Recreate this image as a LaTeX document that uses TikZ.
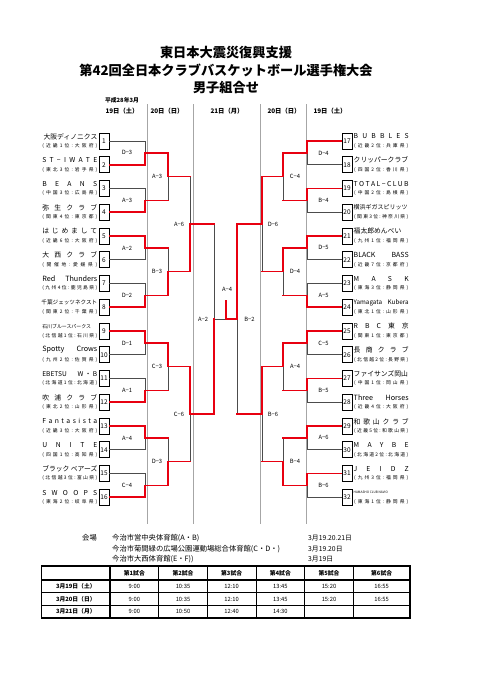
\documentclass[tikz,border=0pt]{standalone}
\usepackage{fontspec}
\setmainfont{Noto Sans CJK JP}
\usetikzlibrary{calc}
\definecolor{bred}{RGB}{232,0,16}
\def\spreadit#1{\spreadaux#1\relax}
\def\spreadaux#1#2\relax{#1\ifx\relax#2\relax\else\hfil\spreadaux#2\relax\fi}
\newcommand\spn[1]{\hbox to 55pt{\spreadit{#1}}}
\newcommand\teamL[4]{%
  \node[numbox] (b#1) at (104,#2) {#1};
  \node[nameL] (n#1) at (97.5,#2-4.6) {#3};
  \node[prefL] (p#1) at (97.5,#2+4.8) {\hbox to 55pt{\spreadit{#4}}};}
\newcommand\teamR[4]{%
  \node[numbox] (b#1) at (347,#2) {#1};
  \node[nameR] (n#1) at (353.5,#2-4.6) {#3};
  \node[prefR] (p#1) at (354,#2+4.8) {\hbox to 54pt{\spreadit{#4}}};}
\begin{document}
\begin{tikzpicture}[x=1pt,y=-1pt,
  numbox/.style={draw=black,line width=0.8pt,minimum width=10pt,minimum height=16pt,inner sep=0pt,font=\fontsize{6.5}{6.5}\selectfont},
  nameL/.style={anchor=east,inner sep=0pt,font=\fontsize{6.8}{7}\selectfont},
  nameR/.style={anchor=west,inner sep=0pt,font=\fontsize{6.8}{7}\selectfont},
  prefL/.style={anchor=east,inner sep=0pt,font=\fontsize{4.8}{5}\selectfont},
  prefR/.style={anchor=west,inner sep=0pt,font=\fontsize{4.8}{5}\selectfont},
  lbl/.style={inner sep=0pt,font=\fontsize{5.8}{6}\selectfont},
  gl/.style={draw=black!70,line width=0.6pt},
  rl/.style={draw=bred,line width=1.6pt,line cap=rect},
  sepline/.style={draw=black!35,line width=0.6pt},
  ttl/.style={inner sep=0pt,font=\bfseries\fontsize{13.2}{14}\selectfont},
  hdr/.style={inner sep=0pt,font=\bfseries\fontsize{6.3}{7}\selectfont},
  ven/.style={anchor=west,inner sep=0pt,font=\fontsize{7.3}{8}\selectfont},
  tbold/.style={inner sep=0pt,font=\bfseries\fontsize{5.8}{6}\selectfont},
  tnum/.style={inner sep=0pt,font=\fontsize{5.8}{6}\selectfont},
  thick line/.style={line width=1.1pt},
  thin line/.style={line width=0.5pt}]
\useasboundingbox (0,0) rectangle (481,680);
\fill[white] (0,0) rectangle (481,680);

% titles
\node[ttl] (t1) at (226,52.5) {東日本大震災復興支援};
\node[ttl] (t2) at (226,70) {第42回全日本クラブバスケットボール選手権大会};
\node[ttl] (t3) at (226,87.5) {男子組合せ};
\node[hdr,font=\bfseries\fontsize{5.8}{6}\selectfont] (ym) at (122,100) {平成28年3月};
\node[hdr] (d1) at (122,110.7) {19日（土）};
\node[hdr] (d2) at (167,110.7) {20日（日）};
\node[hdr] (d3) at (227,110.7) {21日（月）};
\node[hdr] (d4) at (284,110.7) {20日（日）};
\node[hdr] (d5) at (330,110.7) {19日（土）};

% separators
\foreach \xx in {147,193,260,306} \draw[sepline] (\xx,104) -- (\xx,524);

% teams left
\teamL{1}{141}{大阪ディノニクス}{(近畿1位:大阪府)}
\teamL{2}{164.75}{\spn{ST−IWATE}}{(東北3位:岩手県)}
\teamL{3}{188.5}{\spn{BEANS}}{(中国3位:広島県)}
\teamL{4}{212.25}{\spn{弥生クラブ}}{(関東4位:東京都)}
\teamL{5}{236}{\spn{はじめまして}}{(近畿6位:大阪府)}
\teamL{6}{259.75}{\spn{大西クラブ}}{(開催地:愛媛県)}
\teamL{7}{283.5}{\hbox to 55pt{\fontsize{7.2}{7.5}\selectfont Red\hfil Thunders}}{(九州4位:鹿児島県)}
\teamL{8}{307.25}{\fontsize{5.6}{6}\selectfont 千葉ジェッツネクスト}{(関東2位:千葉県)}
\teamL{9}{331}{\hbox to 55pt{\fontsize{4.9}{5}\selectfont 石川ブルースパークス\hfil}}{(北信越1位:石川県)}
\teamL{10}{354.75}{\hbox to 55pt{\fontsize{7.2}{7.5}\selectfont Spotty\hfil Crows}}{(九州2位:佐賀県)}
\teamL{11}{378.5}{\hbox to 55pt{\fontsize{6.6}{7}\selectfont EBETSU\hfil W\hskip 1.5pt・\hskip 1.5pt B}}{(北海道1位:北海道)}
\teamL{12}{402.25}{\spn{吹浦クラブ}}{(東北2位:山形県)}
\teamL{13}{426}{\spn{Fantasista}}{(近畿3位:大阪府)}
\teamL{14}{449.75}{\spn{UNITE}}{(四国1位:高知県)}
\teamL{15}{473.5}{\hbox to 55pt{ブラック\hfil ベアーズ}}{(北信越3位:富山県)}
\teamL{16}{497.25}{\spn{SWOOPS}}{(東海2位:岐阜県)}

% teams right
\teamR{17}{141}{\spn{BUBBLES}}{(近畿2位:兵庫県)}
\teamR{18}{164.75}{クリッパークラブ}{(四国2位:香川県)}
\teamR{19}{188.5}{\spn{TOTAL−CLUB}}{(中国2位:島根県)}
\teamR{20}{212.25}{\fontsize{6}{6}\selectfont 横浜ギガスピリッツ}{(関東3位:神奈川県)}
\teamR{21}{236}{福太郎めんべい}{(九州1位:福岡県)}
\teamR{22}{259.75}{\hbox to 55pt{\fontsize{7}{7.5}\selectfont BLACK\hfil BASS}}{(近畿7位:京都府)}
\teamR{23}{283.5}{\spn{MASK}}{(東海3位:静岡県)}
\teamR{24}{307.25}{\hbox to 55pt{\fontsize{6.3}{7}\selectfont Yamagata\hfil Kubera}}{(東北1位:山形県)}
\teamR{25}{331}{\spn{RBC東京}}{(関東1位:東京都)}
\teamR{26}{354.75}{\spn{長商クラブ}}{(北信越2位:長野県)}
\teamR{27}{378.5}{ファイサンズ岡山}{(中国1位:岡山県)}
\teamR{28}{402.25}{\hbox to 55pt{\fontsize{7.2}{7.5}\selectfont Three\hfil Horses}}{(近畿4位:大阪府)}
\teamR{29}{426}{\spn{和歌山クラブ}}{(近畿5位:和歌山県)}
\teamR{30}{449.75}{\spn{MAYBE}}{(北海道2位:北海道)}
\teamR{31}{473.5}{\spn{JEIDZ}}{(九州3位:福岡県)}
\teamR{32}{497.25}{\fontsize{3.2}{3.5}\selectfont HAMASHO CLUB NAVIO}{(東海1位:静岡県)}

% junction coordinates
\foreach \nm/\yy in {a/152.875,b/200.375,c/247.875,d/295.375,e/342.875,f/390.375,g/437.875,h/485.375}{
  \coordinate (L1\nm) at (145,\yy);
  \coordinate (R1\nm) at (307,\yy);}
\foreach \nm/\yy in {a/176.625,b/271.625,c/366.625,d/461.625}{
  \coordinate (L2\nm) at (168,\yy);
  \coordinate (R2\nm) at (283,\yy);}
\foreach \nm/\yy in {a/224.125,b/414.125}{
  \coordinate (L3\nm) at (190,\yy);
  \coordinate (R3\nm) at (262,\yy);}
\coordinate (SL) at (214,319.125);
\coordinate (SR) at (237,319.125);
\coordinate (F) at (226,319.125);
\coordinate (CH) at (226,301);

% ---- gray (losing) lines
\foreach \t/\m in {1/a,3/b,6/c,7/d,10/e,11/f,14/g,15/h} \draw[gl] (b\t.east) -| (L1\m);
\foreach \t/\m in {18/a,20/b,22/c,23/d,26/e,28/f,30/g,32/h} \draw[gl] (b\t.west) -| (R1\m);
\foreach \c/\p in {L1b/L2a,L1c/L2b,L1f/L2c,L1g/L2d,L2a/L3a,L2d/L3b,L3a/SL,
                   R1b/R2a,R1d/R2b,R1f/R2c,R1g/R2d,R2b/R3a,R2d/R3b,R3b/SR}
  \draw[gl] (\c -| \p) -- (\p);
\draw[gl] (SL) -- (F);

% ---- red (winning) lines
\foreach \t/\m in {2/a,4/b,5/c,8/d,9/e,12/f,13/g,16/h} \draw[rl] (b\t.east) -| (L1\m);
\foreach \t/\m in {17/a,19/b,21/c,24/d,25/e,27/f,29/g,31/h} \draw[rl] (b\t.west) -| (R1\m);
\foreach \c/\p in {L1a/L2a,L1d/L2b,L1e/L2c,L1h/L2d,L2b/L3a,L2c/L3b,L3b/SL,
                   R1a/R2a,R1c/R2b,R1e/R2c,R1h/R2d,R2a/R3a,R2c/R3b,R3a/SR}
  \draw[rl] (\c) -| (\p);
\foreach \c/\p in {L1b/L2a,L1c/L2b,L1f/L2c,L1g/L2d,L2a/L3a,L2d/L3b,L3a/SL,
                   R1b/R2a,R1d/R2b,R1f/R2c,R1g/R2d,R2b/R3a,R2d/R3b,R3b/SR}
  \draw[rl] (\c) -- (\c -| \p);
\draw[rl] (SR) -- (F) -- (CH);

% ---- match labels
\foreach \t/\yy [count=\k] in {D−3/152.875,A−3/200.375,A−2/247.875,D−2/295.375,D−1/342.875,A−1/390.375,A−4/437.875,C−4/485.375}
  \node[lbl] (la\k) at (127,\yy) {\t};
\foreach \t/\yy [count=\k] in {A−3/176.625,B−3/271.625,C−3/366.625,D−3/461.625}
  \node[lbl] (lb\k) at (157,\yy) {\t};
\node[lbl] (lc1) at (179,224.125) {A−6};
\node[lbl] (lc2) at (179,414.125) {C−6};
\node[lbl] (ld1) at (203,319.125) {A−2};
\foreach \t/\yy [count=\k] in {D−4/152.875,B−4/200.375,D−5/247.875,A−5/295.375,C−5/342.875,B−5/390.375,A−6/437.875,B−6/485.375}
  \node[lbl] (ra\k) at (323.5,\yy) {\t};
\foreach \t/\yy [count=\k] in {C−4/176.625,D−4/271.625,A−4/366.625,B−4/461.625}
  \node[lbl] (rb\k) at (295,\yy) {\t};
\node[lbl] (rc1) at (273,224.125) {D−6};
\node[lbl] (rc2) at (273,414.125) {B−6};
\node[lbl] (rd1) at (249.5,319.125) {B−2};
\node[lbl] (fin) at (227,289) {A−4};

% ---- venues
\node[ven,anchor=center] (vh) at (89.5,538) {会場};
\node[ven] (v1) at (112,538) {今治市営中央体育館(A・B)};
\node[ven] (v2) at (112,549) {今治市菊間緑の広場公園運動場総合体育館(C・D・)};
\node[ven] (v3) at (112,559.5) {今治市大西体育館(E・F))};
\node[ven,font=\fontsize{6.8}{7}\selectfont] (w1) at (308,538) {3月19.20.21日};
\node[ven,font=\fontsize{6.8}{7}\selectfont] (w2) at (308,549) {3月19.20日};
\node[ven,font=\fontsize{6.8}{7}\selectfont] (w3) at (308,559.5) {3月19日};

% ---- schedule table
\foreach \xx in {158.7,207.3,256,304.7,353.3} \draw[thin line] (\xx,566) -- (\xx,618);
\foreach \yy in {592.7,605.3} \draw[thin line] (41.7,\yy) -- (410,\yy);
\draw[thick line] (41.7,566) rectangle (410,618);
\draw[thick line] (110,566) -- (110,618);
\draw[thick line] (41.7,580) -- (410,580);
\foreach \t/\xx [count=\k] in {第1試合/134.35,第2試合/183,第3試合/231.65,第4試合/280.35,第5試合/329,第6試合/381.65}
  \node[tbold] (h\k) at (\xx,573) {\t};
\node[tbold] (r1) at (75.85,586.4) {3月19日（土）};
\node[tbold] (r2) at (75.85,599) {3月20日（日）};
\node[tbold] (r3) at (75.85,611.7) {3月21日（月）};
\foreach \t/\xx [count=\k] in {9:00/134.35,10:35/183,12:10/231.65,13:45/280.35,15:20/329,16:55/381.65}{
  \node[tnum] (a\k) at (\xx,586.4) {\t};
  \node[tnum] (c\k) at (\xx,599) {\t};}
\foreach \t/\xx [count=\k] in {9:00/134.35,10:50/183,12:40/231.65,14:30/280.35}
  \node[tnum] (e\k) at (\xx,611.7) {\t};
\end{tikzpicture}
\end{document}
